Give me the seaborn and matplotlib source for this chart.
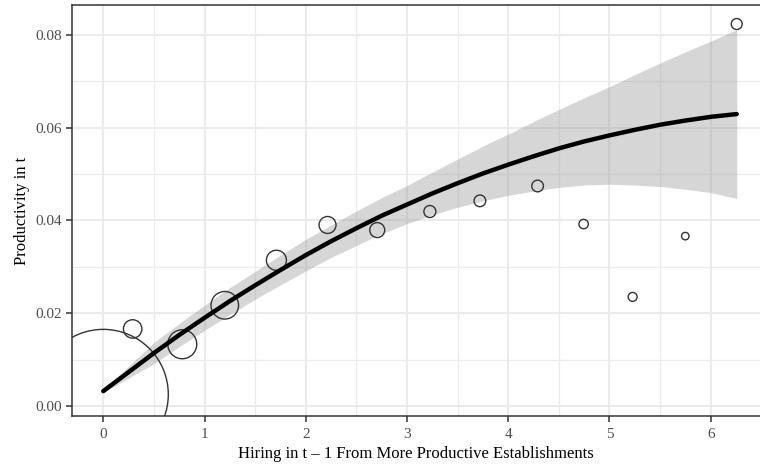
import numpy as np
import pandas as pd
import matplotlib
matplotlib.use("Agg")
import matplotlib.pyplot as plt
from matplotlib.ticker import MultipleLocator
import seaborn as sns

# ---- data ----
hire_x = [0.0, 0.29, 0.78, 1.20, 1.71, 2.215, 2.706, 3.226, 3.72, 4.29, 4.745, 5.229, 5.749, 6.257]
prod_y = [0.0025, 0.0166, 0.0133, 0.0217, 0.0314, 0.0390, 0.0379, 0.0419, 0.0442, 0.0474, 0.0392, 0.0235, 0.0366, 0.0823]
weight = [4225, 85, 210, 190, 100, 72, 56, 36, 34, 34, 22, 20, 14, 30]

fit_x = [0.0, 0.25, 0.5, 0.75, 1.0, 1.25, 1.5, 1.75, 2.0, 2.25, 2.5, 2.75, 3.0,
         3.25, 3.5, 3.75, 4.0, 4.25, 4.5, 4.75, 5.0, 5.25, 5.5, 5.75, 6.0, 6.257]
fit_y = [0.0032, 0.0073, 0.0114, 0.0153, 0.0190, 0.0226, 0.0260, 0.0293, 0.0325, 0.0355, 0.0383, 0.0410, 0.0434,
         0.0458, 0.0480, 0.0501, 0.0520, 0.0538, 0.0555, 0.0570, 0.0583, 0.0595, 0.0606, 0.0615, 0.0623, 0.0629]
fit_hi = [0.0035, 0.0086, 0.0137, 0.0178, 0.0217, 0.0255, 0.0290, 0.0325, 0.0359, 0.0390, 0.0420, 0.0449, 0.0475,
          0.0504, 0.0532, 0.0560, 0.0586, 0.0613, 0.0639, 0.0664, 0.0688, 0.0714, 0.0739, 0.0763, 0.0786, 0.0811]
fit_lo = [0.0029, 0.0060, 0.0091, 0.0128, 0.0163, 0.0197, 0.0230, 0.0261, 0.0291, 0.0320, 0.0346, 0.0371, 0.0393,
          0.0412, 0.0428, 0.0442, 0.0454, 0.0463, 0.0471, 0.0476, 0.0478, 0.0476, 0.0473, 0.0467, 0.0460, 0.0447]

x_ticks = [0, 1, 2, 3, 4, 5, 6]
y_ticks = [0.00, 0.02, 0.04, 0.06, 0.08]
y_tick_labels = ["0.00", "0.02", "0.04", "0.06", "0.08"]

x_label = "Hiring in t \u2013 1 From More Productive Establishments"
y_label = "Productivity in t"

# ---- style ----
sns.set_style("white")
plt.rcParams["font.family"] = ["Liberation Serif", "DejaVu Serif"]

fig = plt.figure(figsize=(7.6, 4.67), dpi=100)
ax = fig.add_axes([0.0943, 0.1092, 0.9057, 0.8801])

df = pd.DataFrame({"x": hire_x, "y": prod_y, "w": weight})

ax.fill_between(fit_x, fit_lo, fit_hi, color="#999999", alpha=0.4, lw=0, zorder=2)

sns.scatterplot(data=df, x="x", y="y", size="w", sizes=(0, 8761), size_norm=(0, 4225),
                legend=False, ax=ax, zorder=3)
pts = ax.collections[-1]
pts.set_facecolor("none")
pts.set_edgecolor("#333333")
pts.set_linewidth(1.0)

sns.lineplot(x=fit_x, y=fit_y, color="black", lw=3.2, ax=ax, zorder=4)

ax.set_xlim(-0.3125, 6.487)
ax.set_ylim(-0.00216, 0.0864)

ax.set_xticks(x_ticks)
ax.set_xticklabels([str(t) for t in x_ticks])
ax.set_yticks(y_ticks)
ax.set_yticklabels(y_tick_labels)
ax.xaxis.set_minor_locator(MultipleLocator(0.5))
ax.yaxis.set_minor_locator(MultipleLocator(0.01))

ax.grid(which="major", color="#EBEBEB", lw=1.5, zorder=0)
ax.grid(which="minor", color="#EBEBEB", lw=0.9, zorder=0)
ax.set_axisbelow(True)

for side in ["left", "bottom", "top"]:
    ax.spines[side].set_visible(True)
    ax.spines[side].set_color("#333333")
    ax.spines[side].set_linewidth(1.1)
ax.spines["right"].set_visible(False)

ax.tick_params(which="major", direction="out", length=4, width=1.1, color="#333333",
               labelsize=11, labelcolor="#4D4D4D", pad=3, bottom=True, left=True, top=False)
ax.tick_params(axis="x", which="major", pad=4.5)
ax.tick_params(which="minor", length=0)

ax.set_xlabel(x_label, fontsize=12, color="black", labelpad=4)
ax.set_ylabel(y_label, fontsize=12, color="black", labelpad=4)

fig.savefig("out.png", dpi=100)
